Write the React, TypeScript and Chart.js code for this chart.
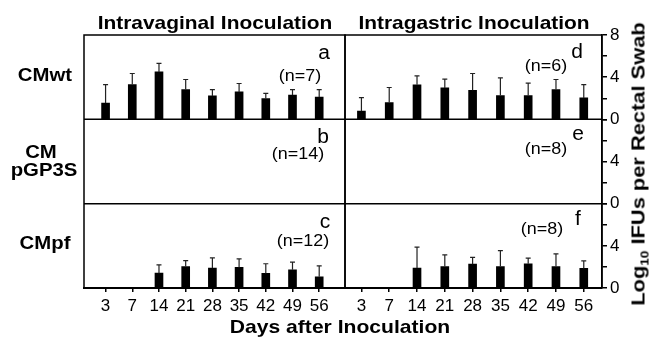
import React, { useEffect, useRef } from 'react';
import { Chart, registerables } from 'chart.js';

Chart.register(...registerables);

const FONT = "'Liberation Sans', Arial, Helvetica, sans-serif";

// Days after inoculation (categories)
const DAYS = ['3', '7', '14', '21', '28', '35', '42', '49', '56'];
const DAY_INDEX = [0, 1, 2, 3, 4, 5, 6, 7, 8];

// Log10 IFUs per rectal swab (mean) and upper error (SD)
const IVAG_WT = [1.55, 3.3, 4.5, 2.83, 2.22, 2.6, 1.97, 2.31, 2.12];
const IVAG_WT_SD = [1.75, 1.05, 0.8, 0.95, 0.6, 0.8, 0.5, 0.5, 0.7];
const IVAG_PGP3S = [0, 0, 0, 0, 0, 0, 0, 0, 0];
const IVAG_PGP3S_SD = [0, 0, 0, 0, 0, 0, 0, 0, 0];
const IVAG_PF = [0, 0, 1.41, 2.04, 1.89, 1.95, 1.38, 1.73, 1.06];
const IVAG_PF_SD = [0, 0, 0.79, 0.56, 0.97, 0.81, 0.92, 0.72, 1.04];

const IGAS_WT = [0.79, 1.59, 3.27, 2.98, 2.76, 2.25, 2.25, 2.83, 2.03];
const IGAS_WT_SD = [1.27, 1.43, 0.85, 0.83, 1.59, 1.68, 1.18, 0.95, 1.27];
const IGAS_PGP3S = [0, 0, 0, 0, 0, 0, 0, 0, 0];
const IGAS_PGP3S_SD = [0, 0, 0, 0, 0, 0, 0, 0, 0];
const IGAS_PF = [0, 0, 1.89, 2.04, 2.26, 2.04, 2.29, 2.04, 1.86];
const IGAS_PF_SD = [0, 0, 1.98, 1.1, 0.64, 1.51, 0.54, 1.2, 0.72];

// Y axis
const Y_MIN = 0;
const Y_MAX = 8;
const Y_STEP = 2;
const Y_LABELS_TOP = [0, 4, 8];
const Y_LABELS_LOWER = [0, 4];

const ROW_IDS = ['yTop', 'yMid', 'yBot'];

const errorBars = {
  id: 'errorBars',
  afterDatasetsDraw(chart: any) {
    const ctx = chart.ctx;
    chart.data.datasets.forEach((ds: any, i: number) => {
      const meta = chart.getDatasetMeta(i);
      const yScale = chart.scales[meta.yAxisID];
      const errs: number[] = ds.errors || [];
      meta.data.forEach((el: any, j: number) => {
        const v = ds.data[j].y;
        const e = errs[j];
        if (!e) return;
        const yTop = yScale.getPixelForValue(v + e);
        ctx.save();
        ctx.strokeStyle = '#222';
        ctx.lineWidth = 1.2;
        ctx.beginPath();
        ctx.moveTo(el.x, el.y);
        ctx.lineTo(el.x, yTop);
        ctx.moveTo(el.x - 2.5, yTop);
        ctx.lineTo(el.x + 2.5, yTop);
        ctx.stroke();
        ctx.restore();
      });
    });
  },
};

const panelBorders = {
  id: 'panelBorders',
  afterDraw(chart: any) {
    const { ctx, chartArea: a } = chart;
    ctx.save();
    ctx.strokeStyle = '#000';
    ctx.lineWidth = 1.5;
    ctx.beginPath();
    ctx.moveTo(a.left, a.bottom);
    ctx.lineTo(a.left, a.top);
    ctx.lineTo(a.right, a.top);
    ctx.lineTo(a.right, a.bottom);
    ['yTop', 'yMid'].forEach((id) => {
      const s = chart.scales[id];
      ctx.moveTo(a.left, s.bottom);
      ctx.lineTo(a.right, s.bottom);
    });
    ctx.stroke();
    ctx.restore();
  },
};

function makeChart(
  canvas: HTMLCanvasElement,
  rows: { vals: number[]; errs: number[] }[],
  side: 'left' | 'right'
) {
  const isRight = side === 'right';
  const xMin = isRight ? -0.591 : -0.808;
  const xMax = isRight ? 8.656 : 8.966;

  const yScales: any = {};
  ROW_IDS.forEach((id, r) => {
    const labels = r === 0 ? Y_LABELS_TOP : Y_LABELS_LOWER;
    yScales[id] = {
      type: 'linear',
      position: 'right',
      stack: 'rows',
      stackWeight: 1,
      min: Y_MIN,
      max: Y_MAX,
      afterFit: (s: any) => {
        s.width = isRight ? 47 : 0;
      },
      ticks: {
        display: isRight,
        stepSize: Y_STEP,
        autoSkip: false,
        padding: 3,
        color: '#000',
        font: { family: FONT, size: 17 },
        callback: (v: number) => (labels.includes(v) ? String(v) : ''),
      },
      grid: {
        display: isRight,
        drawOnChartArea: false,
        drawTicks: true,
        tickLength: 5,
        color: '#000',
        lineWidth: 1.5,
      },
      border: { display: isRight, color: '#000', width: 1.5 },
    };
  });

  return new Chart(canvas, {
    type: 'bar',
    data: {
      datasets: rows.map((row, r) => ({
        data: DAY_INDEX.map((x, j) => ({ x, y: row.vals[j] })),
        errors: row.errs,
        yAxisID: ROW_IDS[r],
        xAxisID: 'x',
        grouped: false,
        backgroundColor: '#000',
        borderWidth: 0,
        barThickness: 8,
      })) as any,
    },
    options: {
      responsive: false,
      maintainAspectRatio: false,
      animation: false,
      layout: {
        padding: isRight
          ? { left: 345, right: 0, top: 35, bottom: 0 }
          : { left: 84, right: 304, top: 35, bottom: 0 },
      },
      plugins: {
        legend: { display: false },
        tooltip: { enabled: false },
        title: { display: false },
      },
      scales: {
        x: {
          type: 'linear',
          position: 'bottom',
          offset: false,
          min: xMin,
          max: xMax,
          afterBuildTicks: (s: any) => {
            s.ticks = DAY_INDEX.map((v) => ({ value: v }));
          },
          afterFit: (s: any) => {
            s.height = 51;
          },
          ticks: {
            autoSkip: false,
            maxRotation: 0,
            minRotation: 0,
            padding: 4,
            color: '#000',
            font: { family: FONT, size: 17 },
            callback: (v: number) => DAYS[v] ?? '',
          },
          grid: {
            offset: false,
            drawOnChartArea: false,
            drawTicks: true,
            tickLength: 4,
            color: '#000',
            lineWidth: 1.5,
          },
          border: { display: true, color: '#000', width: 2 },
        },
        ...yScales,
      },
    } as any,
    plugins: [errorBars, panelBorders],
  });
}

type LabelProps = {
  x: number;
  y: number;
  size: number;
  bold?: boolean;
  sx?: number;
  children: React.ReactNode;
};

function Label({ x, y, size, bold, sx = 1, children }: LabelProps) {
  return (
    <div
      style={{
        position: 'absolute',
        left: x,
        top: y,
        transform: `translate(-50%, -50%) scaleX(${sx})`,
        fontFamily: FONT,
        fontSize: size,
        fontWeight: bold ? 700 : 400,
        lineHeight: 1,
        whiteSpace: 'nowrap',
        color: '#000',
        pointerEvents: 'none',
      }}
    >
      {children}
    </div>
  );
}

export default function App() {
  const leftRef = useRef<HTMLCanvasElement>(null);
  const rightRef = useRef<HTMLCanvasElement>(null);

  useEffect(() => {
    const left = makeChart(
      leftRef.current!,
      [
        { vals: IVAG_WT, errs: IVAG_WT_SD },
        { vals: IVAG_PGP3S, errs: IVAG_PGP3S_SD },
        { vals: IVAG_PF, errs: IVAG_PF_SD },
      ],
      'left'
    );
    const right = makeChart(
      rightRef.current!,
      [
        { vals: IGAS_WT, errs: IGAS_WT_SD },
        { vals: IGAS_PGP3S, errs: IGAS_PGP3S_SD },
        { vals: IGAS_PF, errs: IGAS_PF_SD },
      ],
      'right'
    );
    return () => {
      left.destroy();
      right.destroy();
    };
  }, []);

  const canvasStyle: React.CSSProperties = {
    position: 'absolute',
    left: 0,
    top: 0,
    width: 649,
    height: 339,
  };

  return (
    <div
      style={{
        position: 'fixed',
        left: 0,
        top: 0,
        width: 649,
        height: 339,
        background: '#fff',
        overflow: 'hidden',
      }}
    >
      <canvas ref={leftRef} width={649} height={339} style={canvasStyle} />
      <canvas ref={rightRef} width={649} height={339} style={canvasStyle} />

      <Label x={215} y={23} size={18.5} bold sx={1.13}>Intravaginal Inoculation</Label>
      <Label x={474} y={22.6} size={18.5} bold sx={1.13}>Intragastric Inoculation</Label>
      <Label x={340} y={327} size={18.5} bold sx={1.14}>Days after Inoculation</Label>

      <Label x={45} y={75.3} size={18.5} bold sx={1.1}>CMwt</Label>
      <Label x={41} y={151.9} size={18.5} bold sx={1.1}>CM</Label>
      <Label x={43.5} y={170.1} size={18.5} bold sx={1.1}>pGP3S</Label>
      <Label x={45} y={242.6} size={18.5} bold sx={1.1}>CMpf</Label>

      <Label x={324} y={52.4} size={20} sx={1.05}>a</Label>
      <Label x={322.5} y={136.4} size={20} sx={1.05}>b</Label>
      <Label x={325} y={221.4} size={20} sx={1.05}>c</Label>
      <Label x={576.7} y={51.4} size={20} sx={1.05}>d</Label>
      <Label x={578.3} y={133.1} size={20} sx={1.05}>e</Label>
      <Label x={578} y={218.1} size={20} sx={1.05}>f</Label>

      <Label x={300} y={75.5} size={16} sx={1.12}>(n=7)</Label>
      <Label x={298.3} y={153.8} size={16} sx={1.12}>(n=14)</Label>
      <Label x={302.5} y={241.3} size={16} sx={1.12}>(n=12)</Label>
      <Label x={545.8} y={65.8} size={16} sx={1.12}>(n=6)</Label>
      <Label x={545.8} y={148.8} size={16} sx={1.12}>(n=8)</Label>
      <Label x={541.7} y={228.8} size={16} sx={1.12}>(n=8)</Label>

      <div
        style={{
          position: 'absolute',
          left: 638,
          top: 163.5,
          transform: 'translate(-50%, -50%) rotate(-90deg) scaleX(1.15)',
          fontFamily: FONT,
          fontSize: 19,
          fontWeight: 700,
          lineHeight: 1,
          whiteSpace: 'nowrap',
          color: '#000',
          pointerEvents: 'none',
        }}
      >
        Log
        <span style={{ fontSize: '0.62em', position: 'relative', top: '0.35em' }}>10</span>
        {' IFUs per Rectal Swab'}
      </div>
    </div>
  );
}
